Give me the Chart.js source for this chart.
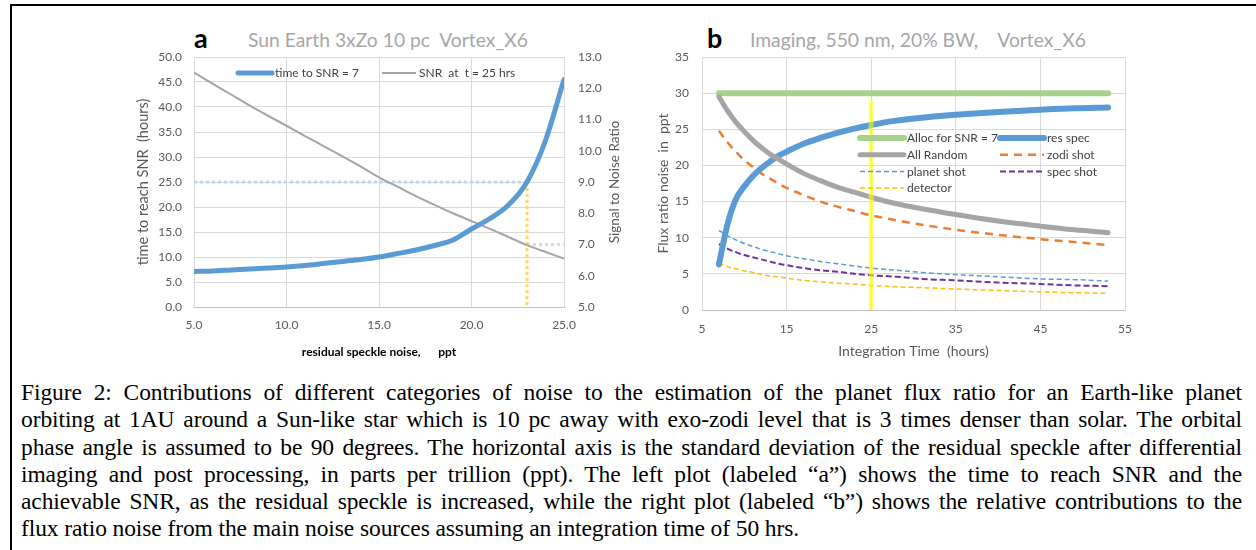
<!DOCTYPE html>
<html>
<head>
<meta charset="utf-8">
<script src="https://cdn.jsdelivr.net/npm/chart.js@4.4.1/dist/chart.umd.min.js"></script>
<style>
    html,body{margin:0;padding:0;background:#fff;}
    body{width:1256px;height:550px;position:relative;overflow:hidden;font-family:Lato,"Open Sans",sans-serif;}
    .frame{position:absolute;left:10px;top:4px;width:1260px;height:560px;border-left:2px solid #000;border-top:2px solid #000;}
    .panel{position:absolute;}
    .tag{position:absolute;font-weight:bold;font-size:27px;line-height:27px;color:#000;}
    .ttl{position:absolute;font-size:19.3px;line-height:20px;color:#a6a6a6;white-space:pre;}
    .caption{position:absolute;left:21px;top:379px;width:1221px;font-family:"Liberation Serif","Times New Roman",serif;font-size:23.5px;line-height:27.3px;letter-spacing:-0.1px;color:#000;}
    .caption div{text-align:justify;text-align-last:justify;}
    .caption div.last{text-align-last:left;}
</style>
</head>
<body>

<div class="frame"></div>

<!-- ===== PANEL A ===== -->
<div class="tag" style="left:194px;top:24px;">a</div>
<div class="ttl" style="left:248px;top:30px;">Sun Earth 3xZo 10 pc  Vortex_X6</div>
<div class="panel" style="left:100px;top:20px;width:540px;height:345px;">
    <canvas id="chartA"></canvas>
</div>

<!-- ===== PANEL B ===== -->
<div class="tag" style="left:707px;top:24px;">b</div>
<div class="ttl" style="left:750px;top:30px;">Imaging, 550 nm, 20% BW,    Vortex_X6</div>
<div class="panel" style="left:640px;top:20px;width:520px;height:345px;">
    <canvas id="chartB"></canvas>
</div>

<div class="caption">
    <div>Figure 2: Contributions of different categories of noise to the estimation of the planet flux ratio for an Earth-like planet</div>
    <div>orbiting at 1AU around a Sun-like star which is 10 pc away with exo-zodi level that is 3 times denser than solar. The orbital</div>
    <div>phase angle is assumed to be 90 degrees. The horizontal axis is the standard deviation of the residual speckle after differential</div>
    <div>imaging and post processing, in parts per trillion (ppt). The left plot (labeled “a”) shows the time to reach SNR and the</div>
    <div>achievable SNR, as the residual speckle is increased, while the right plot (labeled “b”) shows the relative contributions to the</div>
    <div class="last">flux ratio noise from the main noise sources assuming an integration time of 50 hrs.</div>
</div>

<script>
/* ===== DATA : panel a ===== */
const speckle      = [5,6,7,8,9,10,11,12,13,14,15,16,17,18,19,20,21,22,23,24,25];
const hoursToSnr7  = [7.1,7.2,7.4,7.6,7.8,8.0,8.3,8.7,9.1,9.5,10.0,10.7,11.4,12.3,13.4,15.6,17.7,20.4,25.0,33.3,45.5];
const snrAt25h     = [12.5,12.15,11.8,11.45,11.12,10.8,10.47,10.15,9.83,9.5,9.15,8.85,8.55,8.27,8.0,7.75,7.5,7.24,6.98,6.76,6.55];
const guideBlueX   = [5,23];    const guideBlueY   = [25,25];
const guideYellowX = [23,23];   const guideYellowY = [25,0];
const guideGrayX   = [23,25];   const guideGrayY   = [7,7];
const ticksA  = {xMin:5, xMax:25, xStep:5, yMin:0, yMax:50, yStep:5, y2Min:5, y2Max:13, y2Step:1};

/* ===== DATA : panel b ===== */
const hours       = [7,8,9,10,11,12,13,14,15,17,19,21,23,25,28,31,35,40,45,49,53];
const allocSnr7   = [30,30,30,30,30,30,30,30,30,30,30,30,30,30,30,30,30,30,30,30,30];
const resSpec     = [6.3,11.8,15.3,17.1,18.5,19.6,20.5,21.3,21.9,23.0,23.8,24.5,25.1,25.6,26.2,26.6,27.0,27.4,27.7,27.9,28.0];
const allRandom   = [29.5,27.6,26.0,24.7,23.5,22.5,21.6,20.9,20.2,18.9,17.9,17.0,16.3,15.6,14.7,14.0,13.2,12.3,11.6,11.1,10.7];
const zodiShot    = [24.8,23.2,21.9,20.7,19.8,18.9,18.2,17.5,16.9,15.9,15.0,14.3,13.7,13.1,12.4,11.8,11.1,10.4,9.8,9.4,9.0];
const planetShot  = [11.0,10.3,9.7,9.2,8.8,8.4,8.1,7.8,7.5,7.1,6.7,6.4,6.1,5.8,5.5,5.2,4.9,4.6,4.3,4.2,4.0];
const specShot    = [9.1,8.5,8.0,7.6,7.3,7.0,6.7,6.4,6.2,5.8,5.5,5.3,5.0,4.8,4.6,4.3,4.1,3.8,3.6,3.4,3.3];
const detector    = [6.5,6.0,5.7,5.4,5.2,4.9,4.7,4.6,4.4,4.1,3.9,3.7,3.6,3.4,3.2,3.1,2.9,2.7,2.5,2.4,2.3];
const markerX     = [25,25];    const markerY = [0,29];
const ticksB  = {xMin:5, xMax:55, xStep:10, yMin:0, yMax:35, yStep:5};

const pts = (xs,ys)=>xs.map((x,i)=>({x:x,y:ys[i]}));

const TICK = "#595959";
const GRID = "#d9d9d9";
const FONT = "Lato, 'Open Sans', sans-serif";

/* legend drawn inside the plot, Excel style (rows x columns) */
const lineLegend = {
    id:"lineLegend",
    afterDraw(chart, args, o){
        const ctx = chart.ctx;
        ctx.save();
        ctx.font = "12px " + FONT;
        ctx.fillStyle = o.color;
        ctx.textBaseline = "middle";
        chart.data.datasets.filter(d=>d.label).forEach((d,i)=>{
            const x = o.x[i % o.x.length];
            const y = o.y + Math.floor(i / o.x.length) * o.rowH;
            ctx.strokeStyle = d.borderColor;
            ctx.lineWidth = d.borderWidth;
            ctx.lineCap = d.borderCapStyle || "butt";
            ctx.setLineDash(d.borderDash || []);
            ctx.beginPath();
            ctx.moveTo(x, y);
            ctx.lineTo(x + o.len, y);
            ctx.stroke();
            ctx.setLineDash([]);
            ctx.fillText(d.label, x + o.len + 3, y + 0.5);
        });
        ctx.restore();
    }
};

/* right axis title reads bottom-to-top in the original */
const rightTitle = {
    id:"rightTitle",
    afterDraw(chart, args, o){
        if(!o.text) return;
        const s = chart.scales.y2;
        const a = chart.chartArea;
        const ctx = chart.ctx;
        ctx.save();
        ctx.translate(s.left + o.offset, (a.top + a.bottom) / 2);
        ctx.rotate(-Math.PI / 2);
        ctx.font = "13.5px " + FONT;
        ctx.fillStyle = TICK;
        ctx.textAlign = "center";
        ctx.textBaseline = "middle";
        ctx.fillText(o.text, 0, 0);
        ctx.restore();
    }
};

function line(label, xs, ys, color, width, extra){
    return Object.assign({
        label:label,
        data:pts(xs,ys),
        borderColor:color,
        borderWidth:width,
        pointRadius:0,
        fill:false,
        cubicInterpolationMode:"monotone"
    }, extra || {});
}

/* ===== CHART A ===== */
new Chart(document.getElementById("chartA"),{
    type:"line",
    data:{
        datasets:[
            line("time to SNR = 7", speckle, hoursToSnr7, "#5b9bd5", 5, {yAxisID:"y", borderCapStyle:"round", order:1}),
            line("SNR  at  t = 25 hrs", speckle, snrAt25h, "#a5a5a5", 2, {yAxisID:"y2", order:2}),
            line("", guideBlueX, guideBlueY, "#bdd7ee", 3, {yAxisID:"y", borderDash:[3,3], order:3}),
            line("", guideYellowX, guideYellowY, "#ffd966", 3, {yAxisID:"y", borderDash:[3,3], order:3}),
            line("", guideGrayX, guideGrayY, "#d9d9d9", 3, {yAxisID:"y2", borderDash:[3,3], order:3})
        ]
    },
    options:{
        responsive:true,
        maintainAspectRatio:false,
        animation:false,
        layout:{padding:{top:37,left:0,right:0,bottom:0}},
        plugins:{
            legend:{display:false},
            tooltip:{enabled:false},
            lineLegend:{x:[138,282], y:53, rowH:16, len:34, color:"#404040"},
            rightTitle:{text:"Signal to Noise Ratio", offset:51}
        },
        scales:{
            x:{
                type:"linear", min:ticksA.xMin, max:ticksA.xMax,
                ticks:{stepSize:ticksA.xStep, callback:v=>v.toFixed(1), color:TICK, font:{size:12,family:FONT}, padding:11, maxRotation:0},
                grid:{color:GRID, drawTicks:false},
                border:{color:"#bfbfbf"},
                title:{display:true, text:"residual speckle noise,      ppt", color:"#000", font:{size:12,weight:"bold",family:FONT}, padding:{bottom:6}},
                afterFit:s=>{s.height = 58;}
            },
            y:{
                position:"left", min:ticksA.yMin, max:ticksA.yMax,
                ticks:{stepSize:ticksA.yStep, callback:v=>v.toFixed(1), color:TICK, font:{size:12,family:FONT}, padding:12},
                grid:{color:GRID, drawTicks:false},
                border:{color:GRID},
                title:{display:true, text:"time to reach SNR  (hours)", color:TICK, font:{size:14.5,family:FONT}, padding:{top:35}},
                afterFit:s=>{s.width = 94;}
            },
            y2:{
                position:"right", min:ticksA.y2Min, max:ticksA.y2Max,
                ticks:{stepSize:ticksA.y2Step, callback:v=>v.toFixed(1), color:TICK, font:{size:12,family:FONT}, padding:14},
                grid:{drawOnChartArea:false, drawTicks:false},
                border:{display:false},
                afterFit:s=>{s.width = 76;}
            }
        }
    },
    plugins:[lineLegend, rightTitle]
});

/* ===== CHART B ===== */
new Chart(document.getElementById("chartB"),{
    type:"line",
    data:{
        datasets:[
            line("Alloc for SNR = 7", hours, allocSnr7, "#a9d18e", 6, {borderCapStyle:"round", order:5}),
            line("res spec", hours, resSpec, "#5b9bd5", 6, {borderCapStyle:"round", order:2}),
            line("All Random", hours, allRandom, "#a5a5a5", 5, {borderCapStyle:"round", order:1}),
            line("zodi shot", hours, zodiShot, "#ed7d31", 2.5, {borderDash:[8,6], order:3}),
            line("planet shot", hours, planetShot, "#5b9bd5", 1.5, {borderDash:[5,3], order:4}),
            line("spec shot", hours, specShot, "#7030a0", 2, {borderDash:[6,3], order:4}),
            line("detector", hours, detector, "#ffc000", 1.5, {borderDash:[5,3], order:4}),
            line("", markerX, markerY, "rgba(255,255,0,0.6)", 5, {order:0, cubicInterpolationMode:"default", tension:0})
        ]
    },
    options:{
        responsive:true,
        maintainAspectRatio:false,
        animation:false,
        layout:{padding:{top:37,left:0,right:35,bottom:0}},
        plugins:{
            legend:{display:false},
            tooltip:{enabled:false},
            lineLegend:{x:[220,360], y:118, rowH:16.7, len:44, color:"#404040"}
        },
        scales:{
            x:{
                type:"linear", min:ticksB.xMin, max:ticksB.xMax,
                ticks:{stepSize:ticksB.xStep, color:TICK, font:{size:12,family:FONT}, padding:12, maxRotation:0},
                grid:{color:GRID, drawTicks:false},
                border:{color:"#bfbfbf"},
                title:{display:true, text:"Integration Time  (hours)", color:TICK, font:{size:14,family:FONT}, padding:{bottom:5}},
                afterFit:s=>{s.height = 55;}
            },
            y:{
                min:ticksB.yMin, max:ticksB.yMax,
                ticks:{stepSize:ticksB.yStep, color:TICK, font:{size:12,family:FONT}, padding:13},
                grid:{color:GRID, drawTicks:false},
                border:{color:GRID},
                title:{display:true, text:"Flux ratio noise  in  ppt", color:TICK, font:{size:14,family:FONT}, padding:{top:15}},
                afterFit:s=>{s.width = 62;}
            }
        }
    },
    plugins:[lineLegend]
});
</script>
</body>
</html>
